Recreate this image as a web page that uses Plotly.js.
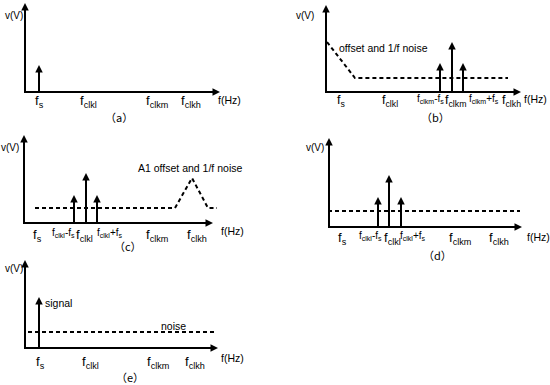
<!DOCTYPE html>
<html><head><meta charset="utf-8">
<script src="https://cdn.plot.ly/plotly-3.0.1.min.js"></script>
<style>html,body{margin:0;padding:0;background:#fff}</style>
</head><body>
<div id="chart" style="width:550px;height:385px"></div>
<script>
// ---------- data (panel-local frequency / amplitude units) ----------
const labelsA = ['f<sub>s</sub>','f<sub>clkl</sub>','f<sub>clkm</sub>','f<sub>clkh</sub>'];
const freqsA  = [14, 63, 132, 166];
const spikeFA = [14];
const spikeVA = [27];

const labelsB = ['f<sub>s</sub>','f<sub>clkl</sub>','f<sub>clkm</sub>-f<sub>s</sub>','f<sub>clkm</sub>','f<sub>clkm</sub>+f<sub>s</sub>','f<sub>clkh</sub>'];
const freqsB  = [14.5, 64, 104.5, 129, 157.5, 185];
const spikeFB = [114, 126, 137];
const spikeVB = [29, 50, 29];
const noiseFB = [1, 29, 182];
const noiseVB = [50, 14, 14];

const labelsC = ['f<sub>s</sub>','f<sub>clkl</sub>-f<sub>s</sub>','f<sub>clkl</sub>','f<sub>clkl</sub>+f<sub>s</sub>','f<sub>clkm</sub>','f<sub>clkh</sub>'];
const freqsC  = [13, 39, 60, 86, 133, 173];
const spikeFC = [50, 62, 73];
const spikeVC = [28, 50, 28];
const noiseFC = [11, 151, 168, 184, 193];
const noiseVC = [15, 15, 45, 15, 15];

const labelsD = ['f<sub>s</sub>','f<sub>clkl</sub>-f<sub>s</sub>','f<sub>clkl</sub>','f<sub>clkl</sub>+f<sub>s</sub>','f<sub>clkm</sub>','f<sub>clkh</sub>'];
const freqsD  = [13, 41, 63, 84, 131, 170];
const spikeFD = [49, 60, 72];
const spikeVD = [30, 52, 30];
const noiseFD = [-1, 191];
const noiseVD = [16, 16];

const labelsE = ['f<sub>s</sub>','f<sub>clkl</sub>','f<sub>clkm</sub>','f<sub>clkh</sub>'];
const freqsE  = [15, 65, 133, 170];
const spikeFE = [14];
const spikeVE = [51];
const noiseFE = [3, 192];
const noiseVE = [16, 16];

const captions = ['（a）','（b）','（c）','（d）','（e）'];

// ---------- layout helpers ----------
const W = 550, H = 385;
const FONT = 'Liberation Sans, Arial, sans-serif';
const traces = [];
const annotations = [];
const layout = {
  width: W, height: H, margin: {l:0, r:0, t:0, b:0},
  paper_bgcolor: '#fff', plot_bgcolor: 'rgba(0,0,0,0)',
  showlegend: false
};

function text(xa, ya, x, y, t, size, family) {
  annotations.push({xref:xa, yref:ya, x:x, y:y, text:t, showarrow:false,
    xanchor:'center', yanchor:'middle',
    font:{family: family || FONT, size:size, color:'#000'}});
}

function addPanel(i, p) {
  const s = i === 1 ? '' : String(i);
  const xa = 'x' + s, ya = 'y' + s;
  const L = Math.min(p.ox, 28), R = Math.min(W - p.ox, 220);
  const B = 32, T = 92;
  layout['xaxis' + s] = {domain:[(p.ox - L) / W, (p.ox + R) / W], range:[-L, R],
    visible:false, fixedrange:true, anchor: ya};
  layout['yaxis' + s] = {domain:[(H - (p.oy + B)) / H, (H - (p.oy - T)) / H], range:[-B, T],
    visible:false, fixedrange:true, anchor: xa};

  // axes lines (L shape) with arrow heads
  traces.push({type:'scatter', mode:'lines', x:[0, 0, p.xend - 3], y:[p.top - 3, 0, 0],
    xaxis:xa, yaxis:ya, line:{color:'#000', width:2}, hoverinfo:'skip', cliponaxis:false});
  traces.push({type:'scatter', mode:'markers', x:[0, p.xend], y:[p.top, 0],
    xaxis:xa, yaxis:ya, hoverinfo:'skip', cliponaxis:false,
    marker:{symbol:['arrow-up','arrow-right'], size:7.5, color:'#000', line:{width:0}}});

  // spectral lines with arrow heads
  const sx = [], sy = [];
  p.sf.forEach((f, k) => { sx.push(f, f, null); sy.push(0, p.sv[k] - 3, null); });
  traces.push({type:'scatter', mode:'lines', x:sx, y:sy, xaxis:xa, yaxis:ya,
    line:{color:'#000', width:2}, hoverinfo:'skip', cliponaxis:false});
  traces.push({type:'scatter', mode:'markers', x:p.sf, y:p.sv, xaxis:xa, yaxis:ya,
    hoverinfo:'skip', cliponaxis:false,
    marker:{symbol:'arrow-up', size:7.5, color:'#000', line:{width:0}}});

  // noise floor
  if (p.nf) {
    traces.push({type:'scatter', mode:'lines', x:p.nf, y:p.nv, xaxis:xa, yaxis:ya,
      line:{color:'#000', width:2, dash:'4px,3px'}, hoverinfo:'skip'});
  }
  // frequency labels
  p.labels.forEach((t, k) => {
    const small = /[-+]/.test(t);
    text(xa, ya, p.freqs[k], small ? p.ly + 2 : p.ly, t, small ? 10 : (p.lsize || 13));
  });
  text(xa, ya, p.fhz[0], p.fhz[1], 'f(Hz)', 10.5);
  text(xa, ya, p.vv[0], p.vv[1], 'v(V)', 10);
  text(xa, ya, p.cap[0], p.cap[1], p.capText, 11, 'Noto Sans CJK SC, sans-serif');
  (p.notes || []).forEach(n => text(xa, ya, n[0], n[1], n[2], 10.5));
}

addPanel(1, {ox:25, oy:92, top:89, xend:195, sf:spikeFA, sv:spikeVA,
  labels:labelsA, freqs:freqsA, ly:-9, fhz:[204,-8], vv:[-11,77], cap:[94,-25], capText:captions[0]});
addPanel(2, {ox:326, oy:92, top:87, xend:195, sf:spikeFB, sv:spikeVB, nf:noiseFB, nv:noiseVB,
  labels:labelsB, freqs:freqsB, ly:-9, lsize:12.5, fhz:[209,-7], vv:[-21,77], cap:[109,-25], capText:captions[1],
  notes:[[57,44,'offset and 1/f noise']]});
addPanel(3, {ox:24, oy:223, top:88, xend:189, sf:spikeFC, sv:spikeVC, nf:noiseFC, nv:noiseVC,
  labels:labelsC, freqs:freqsC, ly:-12, fhz:[208,-8], vv:[-14,76], cap:[104,-23], capText:captions[2],
  notes:[[166,55,'A1 offset and 1/f noise']]});
addPanel(4, {ox:329, oy:227, top:89, xend:193, sf:spikeFD, sv:spikeVD, nf:noiseFD, nv:noiseVD,
  labels:labelsD, freqs:freqsD, ly:-11, fhz:[209,-10], vv:[-14,80], cap:[108,-28], capText:captions[3]});
addPanel(5, {ox:25, oy:348, top:88, xend:193, sf:spikeFE, sv:spikeVE, nf:noiseFE, nv:noiseVE,
  labels:labelsE, freqs:freqsE, ly:-14, fhz:[207,-10], vv:[-11,80], cap:[105,-29], capText:captions[4],
  notes:[[33,45,'signal'],[148,22,'noise']]});

layout.annotations = annotations;
Plotly.newPlot('chart', traces, layout, {displayModeBar:false, staticPlot:true});
</script>
</body></html>
